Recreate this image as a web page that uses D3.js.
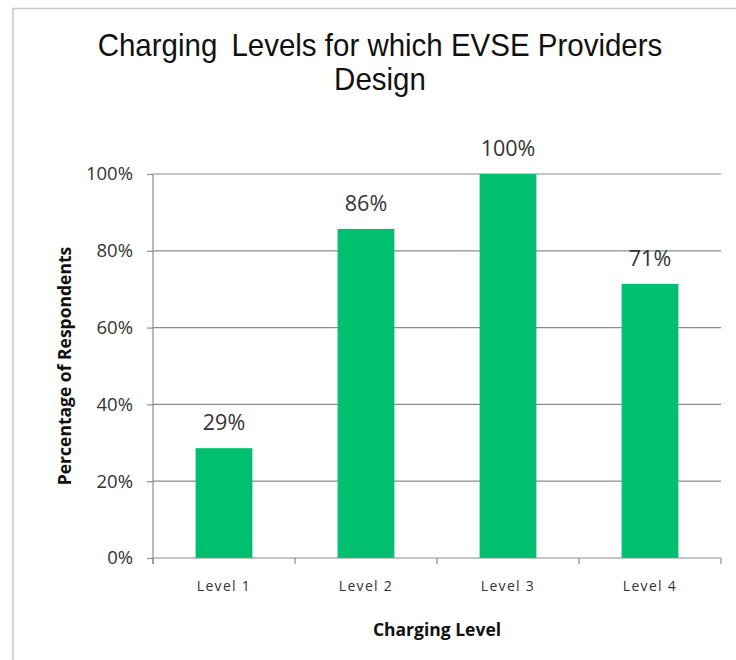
<!DOCTYPE html>
<html>
<head>
<meta charset="utf-8">
<script src="https://cdn.jsdelivr.net/npm/d3@7"></script>
<style>
  body { margin: 0; background: #fff; }
</style>
</head>
<body>
<svg id="chart" width="736" height="660"></svg>
<script>
"use strict";
// data
var levels = ["Level 1", "Level 2", "Level 3", "Level 4"];
var shares = [0.286, 0.857, 1.0, 0.714];
var yTicks = [0, 0.2, 0.4, 0.6, 0.8, 1.0];

var svg = d3.select("#chart");
var bodyFont = "'Open Sans', Lato, sans-serif";

// outer frame (only top and left edges are visible)
svg.append("polyline")
    .attr("points", "13,700 13,8.5 740,8.5")
    .style("fill", "none")
    .style("stroke", "#c8c8c8")
    .style("stroke-width", 1.5);

var plotLeft = 153, plotRight = 721, plotTop = 174, plotBottom = 558;

var x = d3.scaleBand().domain(levels).range([plotLeft, plotRight]).paddingInner(0.6).paddingOuter(0.3);
var y = d3.scaleLinear().domain([0, 1]).range([plotBottom, plotTop]);

// gridlines
svg.append("g").selectAll("line")
    .data(yTicks.slice(1))
    .join("line")
    .attr("x1", plotLeft).attr("x2", plotRight)
    .attr("y1", function (d) { return y(d); })
    .attr("y2", function (d) { return y(d); })
    .style("stroke", "#8c8c8c")
    .style("stroke-width", 1.2);

// bars
svg.append("g").selectAll("rect")
    .data(shares)
    .join("rect")
    .attr("x", function (d, i) { return x(levels[i]); })
    .attr("width", x.bandwidth())
    .attr("y", function (d) { return y(d); })
    .attr("height", function (d) { return y(0) - y(d); })
    .style("fill", "#00bf6f");

// y axis
var yAxis = svg.append("g")
    .attr("transform", "translate(" + plotLeft + ",0)")
    .call(d3.axisLeft(y).tickValues(yTicks).tickFormat(d3.format(".0%")).tickSize(6).tickPadding(14));
yAxis.select(".domain").attr("d", "M0," + (plotBottom + 6) + "V" + plotTop).style("stroke", "#8c8c8c").style("stroke-width", 1.2);
yAxis.selectAll(".tick line").style("stroke", "#8c8c8c").style("stroke-width", 1.2);
yAxis.selectAll(".tick text")
    .style("font-family", bodyFont)
    .style("font-size", "18.5px")
    .style("fill", "#333");

// x axis
var xTickPos = d3.range(levels.length + 1).map(function (i) { return plotLeft + i * (plotRight - plotLeft) / levels.length; });
var xAxis = svg.append("g").attr("transform", "translate(0," + plotBottom + ")");
xAxis.append("line").attr("x1", plotLeft).attr("x2", plotRight)
    .style("stroke", "#8c8c8c").style("stroke-width", 1.2);
xAxis.selectAll("line.tk")
    .data(xTickPos)
    .join("line")
    .attr("class", "tk")
    .attr("x1", function (d) { return d; }).attr("x2", function (d) { return d; })
    .attr("y1", 0).attr("y2", 6)
    .style("stroke", "#8c8c8c").style("stroke-width", 1.2);
xAxis.selectAll("text")
    .data(levels)
    .join("text")
    .attr("x", function (d) { return x(d) + x.bandwidth() / 2; })
    .attr("y", 33)
    .attr("text-anchor", "middle")
    .style("font-family", bodyFont)
    .style("font-size", "14px")
    .style("letter-spacing", "1.3px")
    .style("fill", "#333")
    .text(function (d) { return d; });

// data labels
svg.append("g").selectAll("text")
    .data(shares)
    .join("text")
    .attr("x", function (d, i) { return x(levels[i]) + x.bandwidth() / 2; })
    .attr("y", function (d) { return y(d) - 18; })
    .attr("text-anchor", "middle")
    .style("font-family", bodyFont)
    .style("font-size", "21.5px")
    .style("fill", "#333")
    .text(function (d) { return Math.round(d * 100) + "%"; });

// titles
var sy = 1.06;
var title = svg.append("text")
    .attr("transform", "scale(1," + sy + ")")
    .attr("text-anchor", "middle")
    .style("font-family", "'Liberation Sans', Arial, sans-serif")
    .style("font-size", "29.5px")
    .style("white-space", "pre")
    .style("fill", "#111");
title.append("tspan").attr("x", 380).attr("y", 56 / sy).text("Charging\u2009 Levels for which EVSE Providers");
title.append("tspan").attr("x", 380).attr("y", 90 / sy).text("Design");

svg.append("text")
    .attr("transform", "translate(71," + ((plotTop + plotBottom) / 2) + ") rotate(-90)")
    .attr("text-anchor", "middle")
    .style("font-family", bodyFont)
    .style("font-weight", "bold")
    .style("font-size", "17.5px")
    .style("fill", "#111")
    .text("Percentage of Respondents");

svg.append("text")
    .attr("x", (plotLeft + plotRight) / 2)
    .attr("y", 636)
    .attr("text-anchor", "middle")
    .style("font-family", bodyFont)
    .style("font-weight", "bold")
    .style("font-size", "17.5px")
    .style("fill", "#111")
    .text("Charging Level");
</script>
</body>
</html>
